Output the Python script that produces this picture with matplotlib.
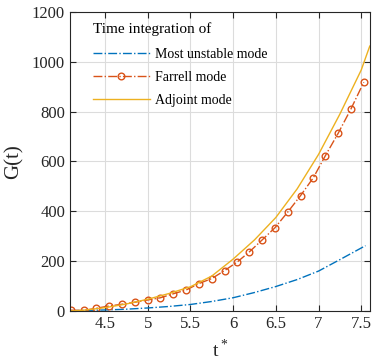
import matplotlib
matplotlib.use("Agg")
import matplotlib.pyplot as plt

plt.rcParams['font.family'] = ['Liberation Serif', 'DejaVu Serif']
plt.rcParams['mathtext.fontset'] = 'custom'
plt.rcParams['mathtext.rm'] = 'Liberation Serif'

# most unstable mode
t_unst = [4.1, 4.5, 4.75, 5.0, 5.25, 5.5, 5.75, 6.0, 6.25, 6.5, 6.75, 7.0, 7.25, 7.55]
g_unst = [1, 4, 7, 12, 18, 26, 38, 53, 74, 98, 126, 160, 206, 262]

# farrell mode (markers)
t_farr = [4.10, 4.25, 4.40, 4.55, 4.70, 4.85, 5.00, 5.15, 5.30, 5.45, 5.60, 5.75,
          5.90, 6.05, 6.19, 6.34, 6.49, 6.64, 6.79, 6.94, 7.08, 7.23, 7.38, 7.53]
g_farr = [3, 2, 11, 20, 27, 35, 44, 53, 69, 84, 110, 130,
          162, 197, 237, 285, 334, 397, 463, 535, 623, 713, 811, 918]

# adjoint mode
t_adj = [4.1, 4.25, 4.5, 4.75, 5.0, 5.25, 5.5, 5.75, 6.0, 6.25, 6.5, 6.75, 7.0, 7.25, 7.5, 7.6]
g_adj = [0, 3, 13, 28, 47, 70, 97, 140, 208, 285, 375, 490, 628, 790, 967, 1063]

fig = plt.figure(figsize=(3.72, 3.62), dpi=100)
ax = fig.add_axes([0.188, 0.141, 0.806, 0.826])

ax.plot(t_unst, g_unst, color='#0072BD', linestyle='-.', linewidth=1.0,
        label='Most unstable mode')
ax.plot(t_farr, g_farr, color='#D95319', linestyle='-.', linewidth=1.0,
        marker='o', markersize=4.8, markerfacecolor='none', markeredgewidth=1.0,
        label='Farrell mode')
ax.plot(t_adj, g_adj, color='#EDB120', linestyle='-', linewidth=1.0,
        label='Adjoint mode')

ax.set_xlim(4.09, 7.6)
ax.set_ylim(0, 1200)
ax.set_xticks([4.5, 5, 5.5, 6, 6.5, 7, 7.5])
ax.set_xticklabels(['4.5', '5', '5.5', '6', '6.5', '7', '7.5'])
ax.set_yticks([0, 200, 400, 600, 800, 1000, 1200])

ax.grid(True, color='#dcdcdc', linewidth=0.8)
ax.set_axisbelow(True)
ax.tick_params(direction='in', top=True, right=True, labelsize=12,
               colors='#262626', length=4)
for s in ax.spines.values():
    s.set_color('#262626')
    s.set_linewidth(0.8)

ax.set_xlabel('t$^*$', fontsize=14, color='#262626', labelpad=5)
ax.set_ylabel('G(t)', fontsize=15, color='#262626', labelpad=6)

leg = ax.legend(title='Time integration of', loc='upper left',
                bbox_to_anchor=(0.058, 0.985), frameon=False,
                fontsize=10, title_fontsize=11, handlelength=4.1,
                handletextpad=0.4, borderaxespad=0.0, labelspacing=0.7)
leg._legend_box.align = 'left'
leg._legend_box.sep = 9

fig.savefig('out.png', dpi=100)
